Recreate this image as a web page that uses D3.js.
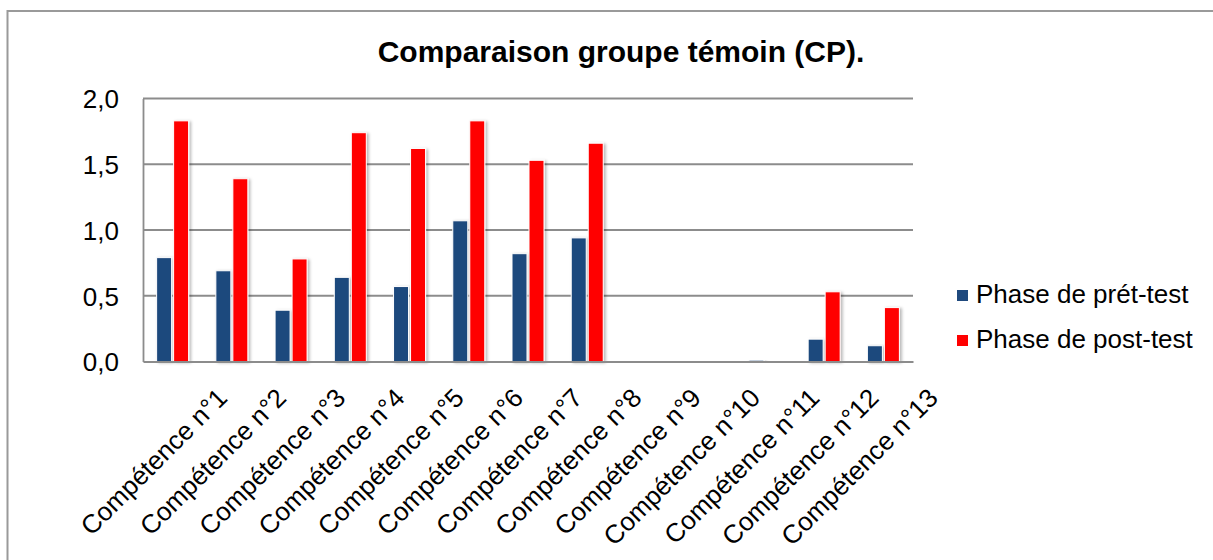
<!DOCTYPE html>
<html><head><meta charset="utf-8">
<script src="https://cdn.jsdelivr.net/npm/d3@7"></script>
<style>html,body{margin:0;padding:0;background:#fff;}svg{display:block;}</style>
</head><body>
<svg id="chart" width="1213" height="560"></svg>
<script>
const categories = ["Compétence n°1","Compétence n°2","Compétence n°3","Compétence n°4","Compétence n°5","Compétence n°6","Compétence n°7","Compétence n°8","Compétence n°9","Compétence n°10","Compétence n°11","Compétence n°12","Compétence n°13"];
const preTest = [0.79, 0.69, 0.39, 0.64, 0.57, 1.07, 0.82, 0.94, 0, 0, 0.01, 0.17, 0.12];
const postTest = [1.83, 1.39, 0.78, 1.74, 1.62, 1.83, 1.53, 1.66, 0, 0, 0, 0.53, 0.41];
const seriesNames = ["Phase de prét-test", "Phase de post-test"];
const seriesColors = ["#1F497D", "#FF0000"];
const yTicks = [0, 0.5, 1.0, 1.5, 2.0];
const title = "Comparaison groupe témoin (CP).";

const svg = d3.select("#chart");
const font = "'Liberation Sans', Arial, sans-serif";

const defs = svg.append("defs");
const f = defs.append("filter").attr("id","sh").attr("x","-30%").attr("y","-10%").attr("width","170%").attr("height","130%");
f.append("feDropShadow").attr("dx",2).attr("dy",1).attr("stdDeviation",1.6).attr("flood-color","#000").attr("flood-opacity",0.28);

// outer border
svg.append("rect").attr("x",7.5).attr("y",11).attr("width",1230).attr("height",580)
  .attr("fill","none").attr("stroke","#9a9a9a").attr("stroke-width",2);

const plot = {left:143, right:913, top:98.5, bottom:361.5};
const x = d3.scaleBand().domain(categories).range([plot.left, plot.right]).padding(0);
const y = d3.scaleLinear().domain([0, 2]).range([plot.bottom, plot.top]);

// title
svg.append("text").attr("x",621).attr("y",62).attr("text-anchor","middle")
  .attr("font-family",font).attr("font-weight","bold").attr("font-size",30).attr("fill","#000").text(title);

// gridlines
svg.append("g").selectAll("line").data(yTicks.filter(t=>t>0)).join("line")
  .attr("x1",plot.left).attr("x2",plot.right).attr("y1",d=>y(d)).attr("y2",d=>y(d))
  .attr("stroke","#8c8c8c").attr("stroke-width",1.8);

// y axis
const yAxis = d3.axisLeft(y).tickValues(yTicks).tickSize(0).tickPadding(24)
  .tickFormat(d=>d3.format(".1f")(d).replace(".", ","));
const gy = svg.append("g").attr("transform",`translate(${plot.left},0)`).call(yAxis);
gy.select(".domain").attr("stroke","#8c8c8c").attr("stroke-width",1.8);
gy.selectAll("text").attr("font-family",font).attr("font-size",26).attr("fill","#000").attr("dy","0.36em");

// bars
const bw = 15;
const groups = svg.append("g").selectAll("g").data(categories).join("g");
groups.each(function(c,i){
  const cx = x(c) + x.bandwidth()/2;
  const vals = [preTest[i], postTest[i]];
  d3.select(this).selectAll("rect").data(vals).join("rect")
    .attr("x",(v,j)=> j===0 ? cx-16 : cx+1)
    .attr("width",bw)
    .attr("y",v=>y(v))
    .attr("height",v=>plot.bottom - y(v))
    .attr("fill",(v,j)=>seriesColors[j])
    .attr("stroke",v=> v>0 ? "#fff" : "none").attr("stroke-width",1)
    .attr("filter",v=> v>0 ? "url(#sh)" : null);
});

// x axis
const xAxis = d3.axisBottom(x).tickSize(0).tickPadding(0);
const gx = svg.append("g").attr("transform",`translate(0,${plot.bottom})`).call(xAxis);
gx.select(".domain").attr("stroke","#8c8c8c").attr("stroke-width",1.8);
gx.selectAll(".tick text")
  .attr("font-family",font).attr("font-size",26).attr("fill","#000")
  .attr("text-anchor","end").attr("dy",0).attr("y",0)
  .attr("transform","translate(56,38) rotate(-45)");

// legend
const lg = svg.append("g");
seriesNames.forEach((n,i)=>{
  const yy = 296 + i*45;
  lg.append("rect").attr("x",957).attr("y",yy-6).attr("width",11).attr("height",11).attr("fill",seriesColors[i]);
  lg.append("text").attr("x",976).attr("y",yy+7).attr("font-family",font).attr("font-size",26).attr("fill","#000").text(n);
});
</script>
</body></html>
